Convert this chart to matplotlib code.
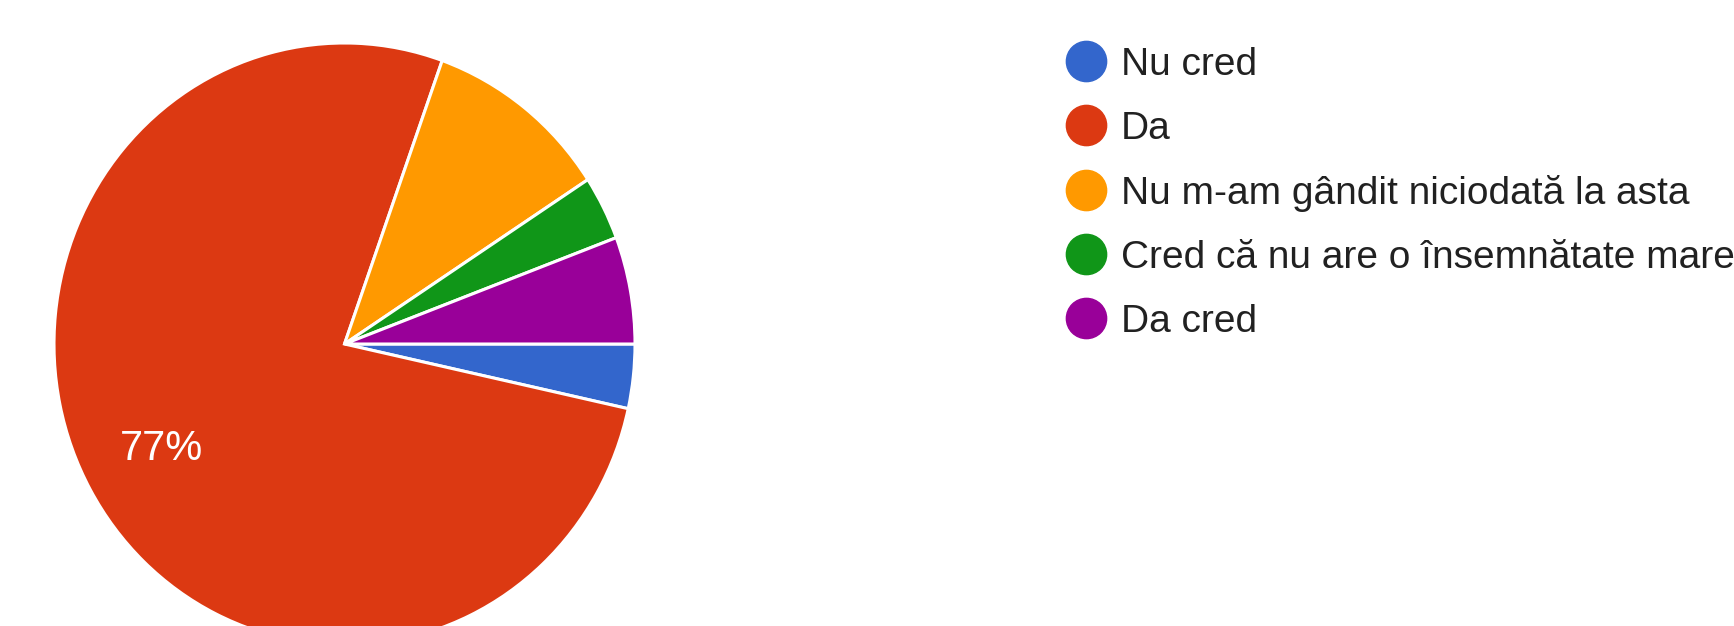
import matplotlib.pyplot as plt
from matplotlib.lines import Line2D

labels = ["Nu cred", "Da", "Nu m-am gândit niciodată la asta",
          "Cred că nu are o însemnătate mare", "Da cred"]
counts = [3, 67, 9, 3, 5]
colors = ["#3366cc", "#dc3912", "#ff9900", "#109618", "#990099"]

plt.rcParams['font.family'] = ['Liberation Sans', 'DejaVu Sans']

W, H = 1734, 626
fig = plt.figure(figsize=(W / 100, H / 100), dpi=100)
ax = fig.add_axes([0, 0, 1, 1])

# pie center and radii in pixels (slightly stretched vertically in the original)
cx, cy = 344.5, 344
rx, ry = 290.5, 301


def pct(p):
    return f"{p:.0f}%" if p > 20 else ""


wedges, texts, autotexts = ax.pie(
    counts, colors=colors, startangle=0, counterclock=False,
    autopct=pct, pctdistance=0.72,
    wedgeprops=dict(edgecolor="white", linewidth=2.2),
    textprops=dict(color="white", fontsize=30))
ax.set_aspect('auto')
ax.set_xlim(-cx / rx, (W - cx) / rx)
ax.set_ylim(-(H - cy) / ry, cy / ry)
ax.axis('off')

handles = [Line2D([], [], marker='o', linestyle='', markersize=29,
                  markerfacecolor=c, markeredgecolor=c) for c in colors]
fig.legend(handles, labels, loc='upper left',
           bbox_to_anchor=(1051 / W, 1 - 31 / H), frameon=False,
           fontsize=28, labelcolor="#212121", handlelength=1.0,
           handletextpad=0.4, labelspacing=0.72, borderaxespad=0)

fig.savefig("out.png", dpi=100)
